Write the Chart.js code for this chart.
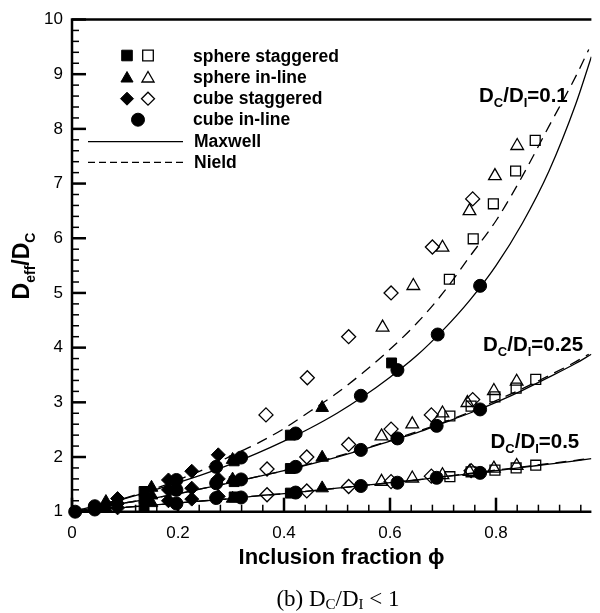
<!DOCTYPE html>
<html>
<head>
<meta charset="utf-8">
<script src="https://cdn.jsdelivr.net/npm/chart.js@4.4.1/dist/chart.umd.min.js"></script>
<style>
  body { margin: 0; background: #fff; }
  #wrap { position: relative; width: 600px; height: 613px; overflow: hidden; }
  #caption {
    position: absolute; left: 238px; top: 587px; width: 200px;
    text-align: center; font: 23px/24px "Liberation Serif", "Times New Roman", serif; color: #000;
  }
  #caption sub { font-size: 15px; vertical-align: -3px; line-height: 0; }
</style>
</head>
<body>
<div id="wrap">
  <canvas id="chart" width="600" height="613"></canvas>
  <div id="caption">(b) D<sub>C</sub>/D<sub>I</sub> &lt; 1</div>
</div>
<script>
// model curves
var phiCurve   = [0, 0.05, 0.1, 0.15, 0.2, 0.25, 0.3, 0.35, 0.4, 0.45, 0.5, 0.55, 0.6, 0.65, 0.7, 0.75, 0.8, 0.85, 0.9, 0.95, 0.98];
var maxwell01  = [1, 1.12, 1.24, 1.38, 1.53, 1.69, 1.87, 2.07, 2.29, 2.53, 2.80, 3.11, 3.46, 3.85, 4.32, 4.86, 5.50, 6.28, 7.23, 8.44, 9.32];
var maxwell025 = [1, 1.08, 1.16, 1.24, 1.33, 1.43, 1.53, 1.64, 1.75, 1.87, 2.00, 2.14, 2.29, 2.44, 2.62, 2.80, 3.00, 3.22, 3.46, 3.71, 3.88];
var maxwell05  = [1, 1.04, 1.08, 1.12, 1.16, 1.20, 1.24, 1.29, 1.33, 1.38, 1.43, 1.48, 1.53, 1.58, 1.64, 1.69, 1.75, 1.81, 1.87, 1.93, 1.97];
var phiNield   = [0, 0.05, 0.1, 0.15, 0.2, 0.25, 0.3, 0.35, 0.4, 0.45, 0.5, 0.55, 0.6, 0.65, 0.7, 0.75, 0.8, 0.85, 0.9, 0.95, 0.975];
var nield01    = [1, 1.12, 1.25, 1.40, 1.58, 1.78, 2.02, 2.25, 2.52, 2.84, 3.17, 3.55, 3.97, 4.44, 5.00, 5.66, 6.32, 7.14, 8.05, 8.95, 9.45];
var nield025   = [1, 1.08, 1.16, 1.24, 1.33, 1.43, 1.53, 1.64, 1.75, 1.88, 2.01, 2.15, 2.30, 2.46, 2.63, 2.82, 3.03, 3.25, 3.49, 3.74, 3.88];
var nield05    = [1, 1.04, 1.08, 1.12, 1.16, 1.20, 1.24, 1.29, 1.33, 1.38, 1.43, 1.48, 1.53, 1.58, 1.64, 1.70, 1.76, 1.82, 1.88, 1.94, 1.97];

// simulation points [phi, Deff/Dc], groups Dc/DI = 0.1, 0.25, 0.5
var sphereStagFilled = [[0.136, 1.37], [0.306, 1.93], [0.412, 2.40], [0.603, 3.72],
                        [0.136, 1.24], [0.306, 1.55], [0.412, 1.79],
                        [0.136, 1.10], [0.306, 1.27], [0.412, 1.34]];
var sphereStagOpen   = [[0.712, 5.25], [0.757, 5.99], [0.795, 6.63], [0.837, 7.23], [0.874, 7.79],
                        [0.713, 2.75], [0.753, 2.93], [0.798, 3.10], [0.838, 3.26], [0.875, 3.42],
                        [0.713, 1.64], [0.753, 1.73], [0.798, 1.76], [0.838, 1.80], [0.875, 1.85]];
var sphereInlFilled  = [[0.064, 1.18], [0.150, 1.44], [0.303, 1.95], [0.472, 2.90],
                        [0.064, 1.12], [0.150, 1.30], [0.303, 1.59], [0.472, 1.99],
                        [0.064, 1.06], [0.150, 1.16], [0.303, 1.24], [0.472, 1.43]];
var sphereInlOpen    = [[0.586, 4.37], [0.644, 5.13], [0.699, 5.83], [0.750, 6.50], [0.798, 7.14], [0.840, 7.69],
                        [0.584, 2.38], [0.642, 2.60], [0.699, 2.80], [0.746, 2.99], [0.796, 3.21], [0.839, 3.38],
                        [0.584, 1.55], [0.642, 1.61], [0.699, 1.67], [0.750, 1.73], [0.796, 1.79], [0.839, 1.84]];
var cubeStagFilled   = [[0.086, 1.24], [0.182, 1.58], [0.226, 1.74], [0.276, 2.04],
                        [0.086, 1.15], [0.182, 1.40], [0.226, 1.43], [0.276, 1.60],
                        [0.086, 1.07], [0.182, 1.20], [0.226, 1.23], [0.276, 1.28]];
var cubeStagOpen     = [[0.366, 2.77], [0.444, 3.45], [0.522, 4.20], [0.602, 5.00], [0.680, 5.84], [0.756, 6.72],
                        [0.368, 1.78], [0.443, 2.00], [0.522, 2.23], [0.602, 2.51], [0.678, 2.77], [0.756, 3.05],
                        [0.368, 1.31], [0.443, 1.38], [0.522, 1.46], [0.602, 1.55], [0.678, 1.65], [0.753, 1.75]];
var cubeInlFilled    = [[0.006, 1.00], [0.043, 1.10], [0.197, 1.58], [0.272, 1.82], [0.319, 1.99], [0.422, 2.43],
                        [0.545, 3.12], [0.614, 3.59], [0.690, 4.24], [0.770, 5.13],
                        [0.043, 1.07], [0.197, 1.40], [0.272, 1.52], [0.319, 1.59], [0.422, 1.82],
                        [0.545, 2.13], [0.614, 2.34], [0.688, 2.57], [0.770, 2.87],
                        [0.043, 1.04], [0.197, 1.15], [0.272, 1.25], [0.319, 1.26], [0.422, 1.35],
                        [0.545, 1.47], [0.614, 1.53], [0.688, 1.62], [0.770, 1.71]];

var xTicks = [0, 0.2, 0.4, 0.6, 0.8];
var yTicks = [1, 2, 3, 4, 5, 6, 7, 8, 9, 10];

var SANS = '"Liberation Sans", Arial, Helvetica, sans-serif';

function toXY(pairs) {
    return pairs.map(function (p) { return {x: p[0], y: p[1]}; });
}
function curve(xs, ys) {
    return xs.map(function (x, i) { return {x: x, y: ys[i]}; });
}
function lineSet(xs, ys, dashed) {
    return {
        data: curve(xs, ys), showLine: true, pointRadius: 0, borderColor: '#000',
        borderWidth: 1.3, borderDash: dashed ? [11, 7] : [], cubicInterpolationMode: 'monotone',
        fill: false, order: 1
    };
}
function markSet(pairs, style, filled, r) {
    return {
        data: toXY(pairs), showLine: false, pointStyle: style, pointRadius: r,
        backgroundColor: filled ? '#000' : 'rgba(0,0,0,0)', borderColor: '#000',
        borderWidth: filled ? 1 : 1.3, clip: false, order: 0
    };
}

// text with subscripts: parts = [[text, isSub], ...]
function drawSubText(ctx, parts, x, y, size, subSize, align) {
    var w = 0, i;
    for (i = 0; i < parts.length; i++) {
        ctx.font = 'bold ' + (parts[i][1] ? subSize : size) + 'px ' + SANS;
        w += ctx.measureText(parts[i][0]).width;
    }
    var cx = align === 'center' ? x - w / 2 : x;
    ctx.textAlign = 'left';
    ctx.textBaseline = 'alphabetic';
    for (i = 0; i < parts.length; i++) {
        ctx.font = 'bold ' + (parts[i][1] ? subSize : size) + 'px ' + SANS;
        ctx.fillText(parts[i][0], cx, parts[i][1] ? y + size * 0.25 : y);
        cx += ctx.measureText(parts[i][0]).width;
    }
}

var framePlugin = {
    id: 'frame',
    beforeDatasetsDraw: function (chart) {
        var ctx = chart.ctx, a = chart.chartArea;
        var xs = chart.scales.x, ys = chart.scales.y;
        ctx.save();
        ctx.strokeStyle = '#000';
        ctx.lineCap = 'butt';
        // axes and top frame
        ctx.lineWidth = 2.5;
        ctx.beginPath();
        ctx.moveTo(a.left, a.top); ctx.lineTo(a.left, a.bottom + 1.25);
        ctx.moveTo(a.left - 1.25, a.bottom); ctx.lineTo(a.right, a.bottom);
        ctx.moveTo(a.left - 1.25, a.top); ctx.lineTo(a.right, a.top);
        ctx.stroke();
        var i, p, major;
        // y ticks, 5 per unit, pointing inward
        for (i = 0; i <= 45; i++) {
            major = i % 5 === 0;
            p = ys.getPixelForValue(1 + i / 5);
            ctx.lineWidth = major ? 2.5 : 1.5;
            ctx.beginPath();
            ctx.moveTo(a.left, p); ctx.lineTo(a.left + (major ? 14 : 7), p);
            ctx.stroke();
        }
        // x ticks every 0.04
        for (i = 0; i <= 24; i++) {
            major = i % 5 === 0;
            p = xs.getPixelForValue(i / 25);
            ctx.lineWidth = major ? 2.5 : 1.5;
            ctx.beginPath();
            ctx.moveTo(p, a.bottom); ctx.lineTo(p, a.bottom - (major ? 14 : 7));
            ctx.stroke();
        }
        ctx.restore();
    },
    afterDraw: function (chart) {
        var ctx = chart.ctx;
        ctx.save();
        ctx.fillStyle = '#000';
        ctx.strokeStyle = '#000';

        // legend markers
        var pt = Chart.helpers.drawPoint;
        function mark(style, filled, x, y, r) {
            ctx.fillStyle = filled ? '#000' : 'rgba(0,0,0,0)';
            ctx.lineWidth = filled ? 1 : 1.3;
            pt(ctx, {pointStyle: style, radius: r, rotation: 0, borderWidth: ctx.lineWidth}, x, y);
        }
        mark('rect', true, 127, 55.5, 7.5); mark('rect', false, 148, 55.5, 7.5);
        mark('triangle', true, 127, 78.5, 7); mark('triangle', false, 148, 78.5, 7);
        mark('rectRot', true, 127, 98.7, 6.5); mark('rectRot', false, 148, 98.7, 6.5);
        mark('circle', true, 138, 119.7, 6.5);
        ctx.lineWidth = 1.3;
        ctx.beginPath(); ctx.moveTo(88, 141.7); ctx.lineTo(183, 141.7); ctx.stroke();
        ctx.setLineDash([7, 4]);
        ctx.beginPath(); ctx.moveTo(88, 162.3); ctx.lineTo(183, 162.3); ctx.stroke();
        ctx.setLineDash([]);

        ctx.fillStyle = '#000';
        ctx.font = 'bold 17.5px ' + SANS;
        ctx.textAlign = 'left';
        ctx.textBaseline = 'alphabetic';
        ctx.fillText('sphere staggered', 193, 61.5);
        ctx.fillText('sphere in-line', 193, 83);
        ctx.fillText('cube staggered', 193, 103.5);
        ctx.fillText('cube in-line', 193, 125);
        ctx.fillText('Maxwell', 194, 147.3);
        ctx.fillText('Nield', 194, 168.3);

        // curve labels
        drawSubText(ctx, [['D', 0], ['C', 1], ['/D', 0], ['I', 1], ['=0.1', 0]], 479, 101.7, 20.5, 13);
        drawSubText(ctx, [['D', 0], ['C', 1], ['/D', 0], ['I', 1], ['=0.25', 0]], 483, 351, 20.5, 13);
        drawSubText(ctx, [['D', 0], ['C', 1], ['/D', 0], ['I', 1], ['=0.5', 0]], 490.5, 447.7, 20.5, 13);

        // axis titles
        ctx.font = 'bold 22px ' + SANS;
        ctx.textAlign = 'center';
        ctx.fillText('Inclusion fraction \u03D5', 341.5, 564);

        ctx.translate(29, 266);
        ctx.rotate(-Math.PI / 2);
        drawSubText(ctx, [['D', 0], ['eff', 1], ['/D', 0], ['C', 1]], 0, 0, 23, 14, 'center');
        ctx.restore();
    }
};

new Chart(document.getElementById('chart'), {
    type: 'scatter',
    data: {
        datasets: [
            markSet(sphereStagFilled, 'rect', true, 7),
            markSet(sphereStagOpen, 'rect', false, 7),
            markSet(sphereInlFilled, 'triangle', true, 7.3),
            markSet(sphereInlOpen, 'triangle', false, 7.3),
            markSet(cubeStagFilled, 'rectRot', true, 7),
            markSet(cubeStagOpen, 'rectRot', false, 7),
            markSet(cubeInlFilled, 'circle', true, 6.5),
            lineSet(phiCurve, maxwell01, false),
            lineSet(phiCurve, maxwell025, false),
            lineSet(phiCurve, maxwell05, false),
            lineSet(phiNield, nield01, true),
            lineSet(phiNield, nield025, true),
            lineSet(phiNield, nield05, true)
        ]
    },
    options: {
        responsive: false,
        animation: false,
        devicePixelRatio: 1,
        layout: {padding: {top: 19.5, right: 0, left: 0, bottom: 0}},
        plugins: {legend: {display: false}, tooltip: {enabled: false}},
        scales: {
            x: {
                type: 'linear', min: 0, max: 0.98,
                grid: {display: false, drawTicks: false},
                border: {display: false},
                afterBuildTicks: function (s) { s.ticks = xTicks.map(function (v) { return {value: v}; }); },
                afterFit: function (s) { s.height = 101.3; },
                ticks: {padding: 11, color: '#000', font: {family: SANS, size: 17}, maxRotation: 0}
            },
            y: {
                type: 'linear', min: 1, max: 10,
                grid: {display: false, drawTicks: false},
                border: {display: false},
                afterBuildTicks: function (s) { s.ticks = yTicks.map(function (v) { return {value: v}; }); },
                afterFit: function (s) { s.width = 72; },
                ticks: {padding: 9, color: '#000', font: {family: SANS, size: 17}}
            }
        }
    },
    plugins: [framePlugin]
});
</script>
</body>
</html>
